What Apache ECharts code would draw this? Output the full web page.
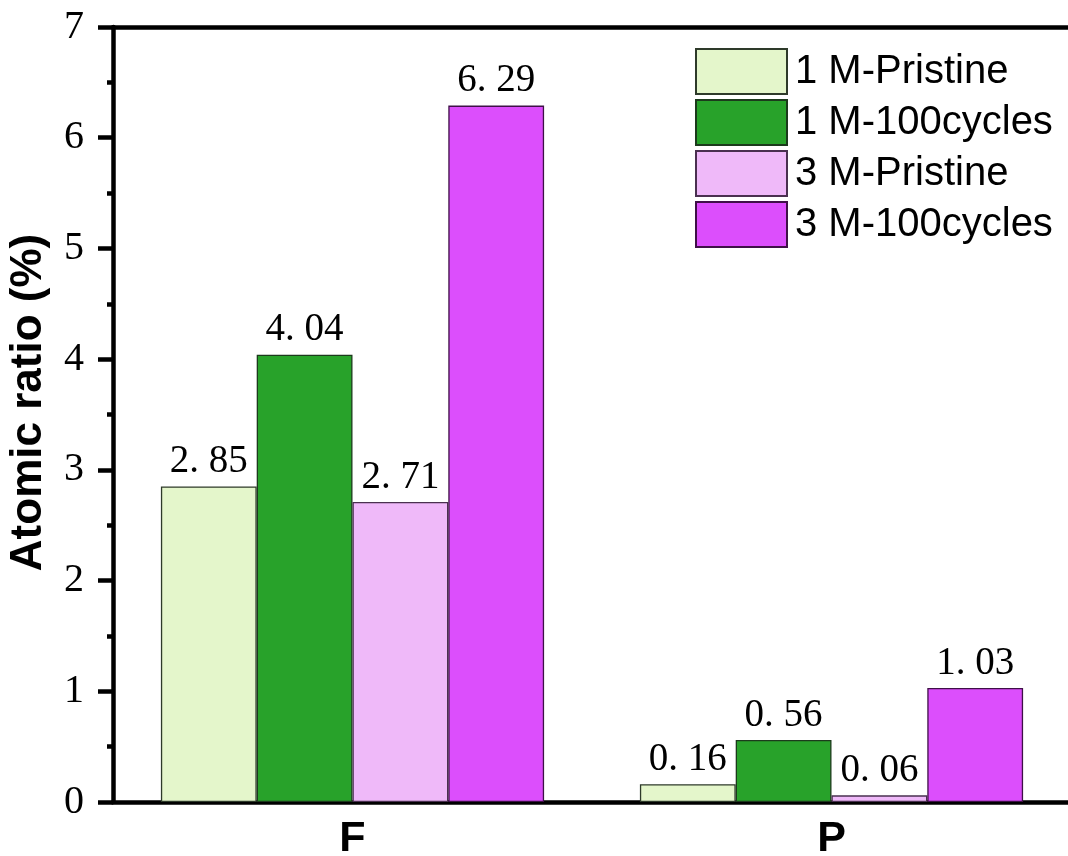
<!DOCTYPE html>
<html>
<head>
<meta charset="utf-8">
<script src="https://cdn.jsdelivr.net/npm/echarts@6/dist/echarts.min.js"></script>
<style>
  html, body { margin: 0; padding: 0; background: #fff; }
  #chart { width: 1068px; height: 856px; }
</style>
</head>
<body>
<div id="chart"></div>
<script>
// Elements measured by XPS
const categories = ['F', 'P'];
const seriesNames = ['1 M-Pristine', '1 M-100cycles', '3 M-Pristine', '3 M-100cycles'];
const pristine1M = [2.85, 0.16];
const cycled1M = [4.04, 0.56];
const pristine3M = [2.71, 0.06];
const cycled3M = [6.29, 1.03];
const yTicks = [0, 1, 2, 3, 4, 5, 6, 7];

const fills = ['#E4F6CB', '#28A22A', '#EFB9F9', '#DC4EFC'];
const edges = ['#2e3a2a', '#1c3a1c', '#4a3050', '#3f1048'];
const values = [pristine1M, cycled1M, pristine3M, cycled3M];

// Value labels keep the wide decimal point spacing of the original typesetting
const fmt = p => p.value.toFixed(2).replace('.', '. ');

const series = seriesNames.map((name, i) => ({
  name: name,
  type: 'bar',
  data: values[i],
  barGap: '0%',
  barCategoryGap: '20%',
  itemStyle: { color: fills[i], borderColor: edges[i], borderWidth: 1.3 },
  label: {
    show: true,
    position: 'top',
    distance: 5,
    formatter: fmt,
    color: '#000',
    fontFamily: 'Liberation Serif',
    fontSize: 39
  }
}));

const chart = echarts.init(document.getElementById('chart'), null, { renderer: 'canvas' });
chart.setOption({
  animation: false,
  backgroundColor: '#fff',
  grid: { left: 113, top: 27, width: 958, height: 775, containLabel: false, outerBoundsMode: 'none' },
  legend: {
    orient: 'vertical',
    left: 695,
    top: 48,
    padding: 0,
    itemWidth: 91,
    itemHeight: 45,
    itemGap: 4,
    icon: 'rect',
    data: seriesNames,
    textStyle: { fontFamily: 'Liberation Sans', fontSize: 40, color: '#000', padding: [0, 0, 0, 3] }
  },
  xAxis: [
    {
      type: 'category',
      data: categories,
      position: 'bottom',
      axisLine: { lineStyle: { color: '#000', width: 4.5 } },
      axisTick: { show: false },
      axisLabel: {
        color: '#000',
        fontFamily: 'Liberation Sans',
        fontWeight: 'bold',
        fontSize: 43,
        margin: 16
      }
    },
    {
      type: 'category',
      data: categories,
      position: 'top',
      axisLine: { lineStyle: { color: '#000', width: 4.5 } },
      axisTick: { show: false },
      axisLabel: { show: false }
    }
  ],
  yAxis: {
    type: 'value',
    min: yTicks[0],
    max: yTicks[yTicks.length - 1],
    interval: 1,
    name: 'Atomic ratio (%)',
    nameLocation: 'middle',
    nameGap: 62,
    nameTextStyle: {
      color: '#000',
      fontFamily: 'Liberation Sans',
      fontWeight: 'bold',
      fontSize: 44,
      padding: [0, 0, 0, 24]
    },
    axisLine: { show: true, lineStyle: { color: '#000', width: 4.5 } },
    axisTick: { show: true, inside: false, length: 15, lineStyle: { color: '#000', width: 4.5 } },
    minorTick: { show: true, splitNumber: 2, length: 6, lineStyle: { color: '#000', width: 4.5 } },
    splitLine: { show: false },
    axisLabel: {
      color: '#000',
      fontFamily: 'Liberation Serif',
      fontSize: 40,
      margin: 29
    }
  },
  series: series
});
</script>
</body>
</html>
